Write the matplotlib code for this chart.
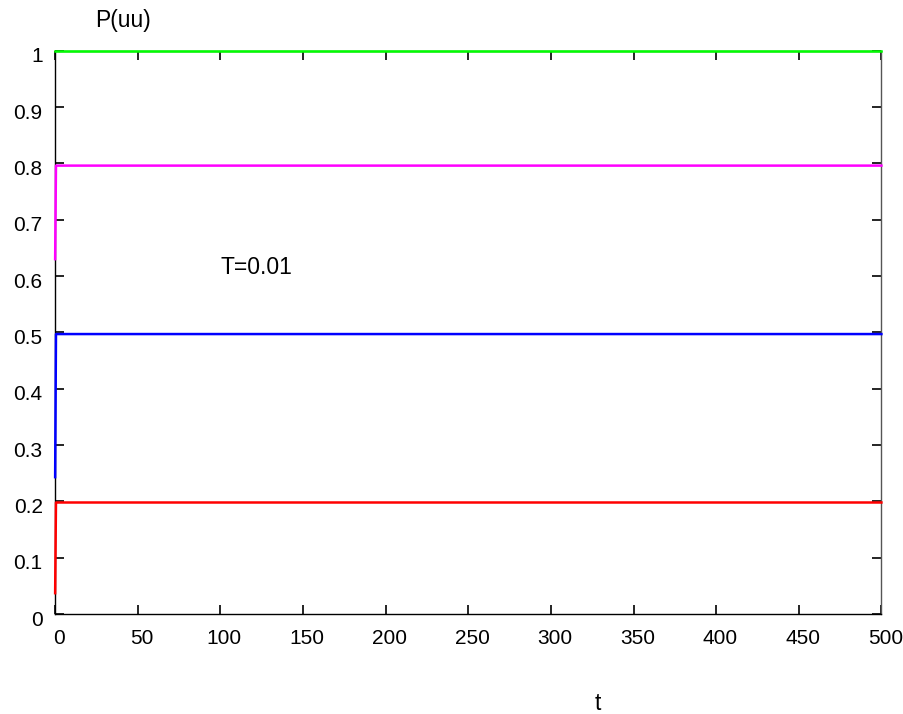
import matplotlib
matplotlib.use('Agg')
import matplotlib.pyplot as plt
import matplotlib.transforms as mtransforms
import numpy as np

plt.rcParams['font.family'] = ['Liberation Sans', 'DejaVu Sans']

# time samples and P(uu) series (quick rise at t~0, then flat)
t = [0, 0.5, 500]
p_green = [1.0, 1.0, 1.0]
p_pink = [0.63, 0.796, 0.796]
p_blue = [0.243, 0.497, 0.497]
p_red = [0.037, 0.198, 0.198]

x_ticks = np.arange(0, 501, 50)
y_ticks = [0, 0.1, 0.2, 0.3, 0.4, 0.5, 0.6, 0.7, 0.8, 0.9, 1]
y_labels = ['0', '0.1', '0.2', '0.3', '0.4', '0.5', '0.6', '0.7', '0.8', '0.9', '1']

fig = plt.figure(figsize=(9.04, 7.14), dpi=100)
ax = fig.add_axes([0.061, 0.140, 0.914, 0.789])

for y, c in [(p_green, '#00ff00'), (p_pink, '#ff00ff'),
             (p_blue, '#0000ff'), (p_red, '#ff0000')]:
    ax.plot(t, y, color=c, lw=1.8, clip_on=False, zorder=3)

ax.set_xlim(0, 500)
ax.set_ylim(0, 1)
ax.set_xticks(x_ticks)
ax.set_yticks(y_ticks)
ax.set_yticklabels(y_labels)
ax.tick_params(direction='in', length=6.5, width=1.2, labelsize=15,
               top=True, right=True)
ax.tick_params(axis='x', pad=11)
ax.tick_params(axis='y', pad=9)
for s in ax.spines.values():
    s.set_linewidth(1)
ax.spines['right'].set_color('#555555')

# gnuplot-like small offsets of the tick labels
dx = mtransforms.ScaledTranslation(4 / 100, 0, fig.dpi_scale_trans)
dy = mtransforms.ScaledTranslation(0, -4 / 100, fig.dpi_scale_trans)
for lbl in ax.get_xticklabels():
    lbl.set_transform(lbl.get_transform() + dx)
for lbl in ax.get_yticklabels():
    lbl.set_transform(lbl.get_transform() + dy)

ax.text(100, 0.615, 'T=0.01', fontsize=16.5, va='center', ha='left')
fig.text(95 / 904, 1 - 20 / 714, 'P(uu)', fontsize=16.5, va='center', ha='left')
fig.text(598 / 904, 1 - 703 / 714, 't', fontsize=16.5, va='center', ha='center')

fig.savefig('out.png', dpi=100)
